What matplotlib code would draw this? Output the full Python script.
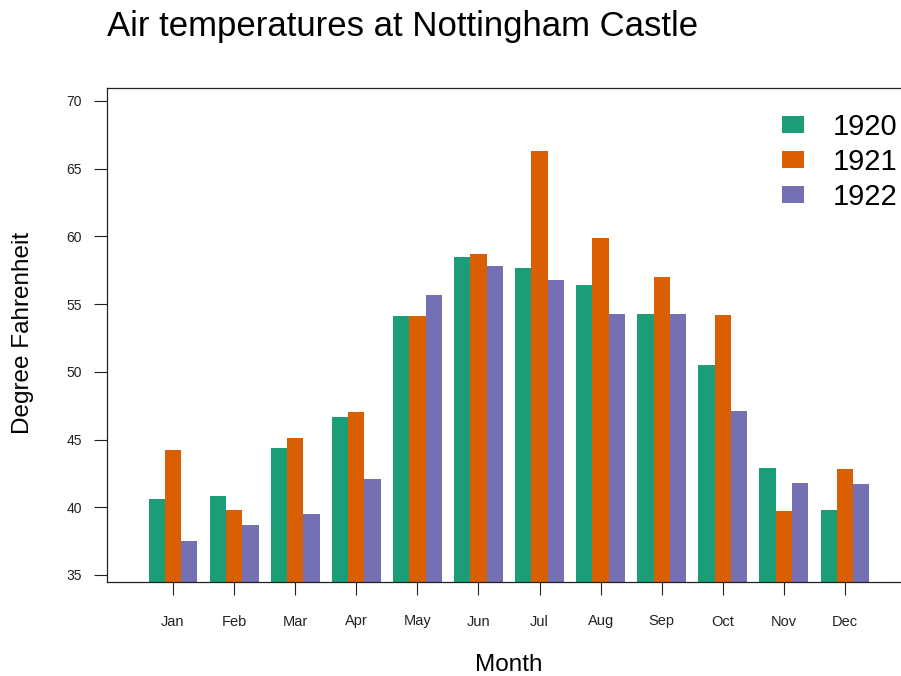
"""
plot.py — Nottingham Castle monthly air temperatures, 1920-1922 (grouped bars)
"""
import matplotlib
matplotlib.use('Agg')
import matplotlib.pyplot as plt
import numpy as np

plt.rcParams['font.family'] = ['Liberation Sans', 'DejaVu Sans']

months = ['Jan', 'Feb', 'Mar', 'Apr', 'May', 'Jun',
          'Jul', 'Aug', 'Sep', 'Oct', 'Nov', 'Dec']
years  = ['1920', '1921', '1922']

temps_1920 = [40.6, 40.8, 44.4, 46.7, 54.1, 58.5, 57.7, 56.4, 54.3, 50.5, 42.9, 39.8]
temps_1921 = [44.2, 39.8, 45.1, 47.0, 54.1, 58.7, 66.3, 59.9, 57.0, 54.2, 39.7, 42.8]
temps_1922 = [37.5, 38.7, 39.5, 42.1, 55.7, 57.8, 56.8, 54.3, 54.3, 47.1, 41.8, 41.7]

colors = ['#1B9E77', '#D95F02', '#7570B3']
y_ticks = [35, 40, 45, 50, 55, 60, 65, 70]


def main():
    fig = plt.figure(figsize=(9.01, 6.76), dpi=100, facecolor='white')
    # axes box in pixels: left 107, top 88, bottom 582, right ~911 (past the edge)
    ax = fig.add_axes([107 / 901, 1 - 582 / 676, (911 - 107) / 901, (582 - 88) / 676])

    ymin, ymax = 34.48, 70.96
    x = np.arange(len(months))
    width = 0.8 / 3
    series = [temps_1920, temps_1921, temps_1922]
    handles = []
    for i, vals in enumerate(series):
        vals = np.array(vals)
        h = ax.bar(x + (i - 1) * width, vals - ymin, bottom=ymin, width=width,
                   color=colors[i], linewidth=0, label=years[i])
        handles.append(h)

    ax.set_xlim(-1.08, 12.08)
    ax.set_ylim(ymin, ymax)
    ax.set_yticks(y_ticks)
    ax.set_yticklabels([str(v) for v in y_ticks])
    ax.set_xticks(x)
    ax.set_xticklabels(months)

    ax.tick_params(axis='y', length=9.4, width=0.8, pad=8.6, labelsize=10, colors='#222222')
    ax.tick_params(axis='x', length=9.4, width=0.8, pad=14, labelsize=10.5, colors='#222222')
    ax.spines['right'].set_visible(False)
    for s in ['left', 'top', 'bottom']:
        ax.spines[s].set_linewidth(0.9)
        ax.spines[s].set_color('#222222')

    fig.text(107 / 901, 1 - 36 / 676, 'Air temperatures at Nottingham Castle',
             fontsize=25, ha='left', va='baseline')
    fig.text(509 / 901, 1 - 665 / 676, 'Month', fontsize=17.5, ha='center', va='center')
    fig.text(23 / 901, 1 - 333 / 676, 'Degree Fahrenheit', fontsize=17.5,
             rotation=90, ha='center', va='center')

    fig.legend(handles=handles, labels=years, loc='upper left',
               bbox_to_anchor=(782 / 901, 1 - 113 / 676), frameon=False,
               fontsize=21, handlelength=0.75, handleheight=0.55,
               handletextpad=1.0, labelspacing=0.24, borderpad=0, borderaxespad=0)

    fig.savefig('out.png', dpi=100, facecolor='white')
    plt.close(fig)


if __name__ == '__main__':
    main()
